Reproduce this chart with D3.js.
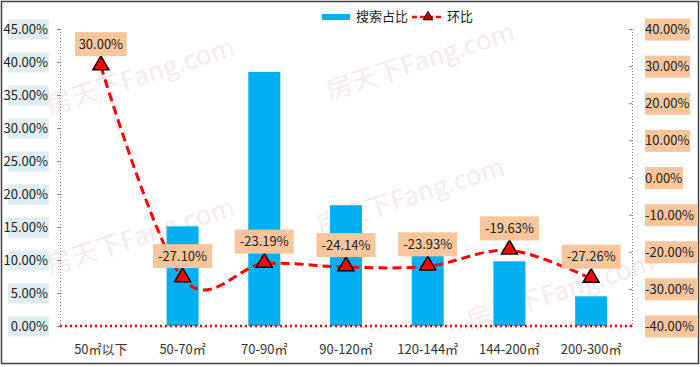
<!DOCTYPE html>
<html>
<head>
<meta charset="utf-8">
<script src="https://cdn.jsdelivr.net/npm/d3@7"></script>
<style>
  body { margin: 0; background: #fff; }
  text { font-family: "Noto Sans CJK SC", "Noto Sans", sans-serif; }
</style>
</head>
<body>
<div id="chart"></div>
<script>
// data
var categories = ["50㎡以下", "50-70㎡", "70-90㎡", "90-120㎡", "120-144㎡", "144-200㎡", "200-300㎡"];
var shareValues = [0, 15.1, 38.5, 18.3, 10.8, 9.8, 4.5];          // 搜索占比 (%)
var changeValues = [30.00, -27.10, -23.19, -24.14, -23.93, -19.63, -27.26]; // 环比 (%)
var leftTicks = [0, 5, 10, 15, 20, 25, 30, 35, 40, 45];
var rightTicks = [-40, -30, -20, -10, 0, 10, 20, 30, 40];

var width = 700, height = 367;
var margin = { top: 29, right: 68, bottom: 41, left: 60 };
var plotW = width - margin.left - margin.right,
    plotH = height - margin.top - margin.bottom;

var svg = d3.select("#chart").append("svg")
    .attr("width", width)
    .attr("height", height);

// outer border
svg.append("rect")
    .attr("x", 1.5).attr("y", 1.5)
    .attr("width", width - 3).attr("height", height - 5)
    .attr("fill", "#fff")
    .attr("stroke", "#404040")
    .attr("stroke-width", 1.5);

// faint watermarks
var marks = [[50, 115], [330, 100], [50, 275], [320, 235], [470, 330]];
marks.forEach(function (m) {
    svg.append("text")
        .attr("transform", "translate(" + m[0] + "," + m[1] + ") rotate(-18)")
        .attr("fill", "#e8b8bd")
        .attr("opacity", 0.3)
        .style("font-size", "26px")
        .text("房天下Fang.com");
});

var g = svg.append("g")
    .attr("transform", "translate(" + margin.left + "," + margin.top + ")");

// scales
var xc = d3.scaleBand().domain(categories).range([0, plotW]);
var yL = d3.scaleLinear().domain([0, 45]).range([plotH, 0]);
var yR = d3.scaleLinear().domain([-40, 40]).range([plotH, 0]);

// bars
g.selectAll(".bar")
    .data(shareValues)
    .enter().append("rect")
    .attr("class", "bar")
    .attr("x", function (d, i) { return xc(categories[i]) + xc.bandwidth() / 2 - 16; })
    .attr("width", 32)
    .attr("y", function (d) { return yL(d); })
    .attr("height", function (d) { return plotH - yL(d); })
    .attr("fill", "#00b0f0");

// left axis
var leftAxis = g.append("g")
    .call(d3.axisLeft(yL).tickValues(leftTicks).tickSize(3).tickFormat(""));
leftAxis.select(".domain").attr("stroke", "#808080").attr("stroke-dasharray", "1,2");
leftAxis.selectAll(".tick line").attr("stroke", "#808080");
leftAxis.selectAll(".tick").each(function (d) {
    var t = d3.select(this);
    t.append("rect")
        .attr("x", -52).attr("y", -10)
        .attr("width", 41).attr("height", 20)
        .attr("fill", "#deeef4");
    t.append("text")
        .attr("x", -12).attr("dy", "0.35em")
        .attr("text-anchor", "end")
        .attr("fill", "#222")
        .style("font-size", "13px")
        .text(d.toFixed(2) + "%");
});

// right axis
var rightAxis = g.append("g")
    .attr("transform", "translate(" + plotW + ",0)")
    .call(d3.axisRight(yR).tickValues(rightTicks).tickSize(-3).tickFormat(""));
rightAxis.select(".domain").attr("stroke", "#808080").attr("stroke-dasharray", "1,2");
rightAxis.selectAll(".tick line").attr("stroke", "#808080");
rightAxis.selectAll(".tick").each(function (d) {
    var t = d3.select(this);
    var label = d.toFixed(2) + "%";
    var w = label.length * 7.2 + 2;
    t.append("rect")
        .attr("x", 13).attr("y", -11)
        .attr("width", w).attr("height", 22)
        .attr("fill", "#f8c59c");
    t.append("text")
        .attr("x", 13).attr("dy", "0.35em")
        .attr("fill", "#222")
        .style("font-size", "13px")
        .text(label);
});

// x baseline, dotted red
g.append("line")
    .attr("x1", 0).attr("x2", plotW)
    .attr("y1", plotH).attr("y2", plotH)
    .attr("stroke", "#e00000")
    .attr("stroke-width", 2.5)
    .attr("stroke-dasharray", "2,3");

// x labels
g.selectAll(".xlabel")
    .data(categories)
    .enter().append("text")
    .attr("class", "xlabel")
    .attr("x", function (d) { return xc(d) + xc.bandwidth() / 2; })
    .attr("y", plotH + 28)
    .attr("text-anchor", "middle")
    .attr("fill", "#333")
    .style("font-size", "13px")
    .text(function (d) { return d; });

// line
var line = d3.line()
    .x(function (d, i) { return xc(categories[i]) + xc.bandwidth() / 2; })
    .y(function (d) { return yR(d); })
    .curve(d3.curveCardinal.tension(0));

g.append("path")
    .datum(changeValues)
    .attr("d", line)
    .attr("fill", "none")
    .attr("stroke", "#ff0000")
    .attr("stroke-width", 3)
    .attr("stroke-dasharray", "9,5");

var tri = d3.symbol().type(d3.symbolTriangle).size(110);
g.selectAll(".pt")
    .data(changeValues)
    .enter().append("path")
    .attr("class", "pt")
    .attr("transform", function (d, i) {
        return "translate(" + (xc(categories[i]) + xc.bandwidth() / 2) + "," + (yR(d) - 1) + ")";
    })
    .attr("d", tri)
    .attr("fill", "#ff0000")
    .attr("stroke", "#000")
    .attr("stroke-width", 1.5);

// value labels
g.selectAll(".vlab")
    .data(changeValues)
    .enter().append("g")
    .attr("class", "vlab")
    .attr("transform", function (d, i) {
        return "translate(" + (xc(categories[i]) + xc.bandwidth() / 2) + "," + (yR(d) - 22) + ")";
    })
    .each(function (d) {
        var t = d3.select(this);
        var label = d.toFixed(2) + "%";
        var w = label.length * 7.3 + 8;
        t.append("rect")
            .attr("x", -w / 2).attr("y", -12)
            .attr("width", w).attr("height", 24)
            .attr("fill", "#f8c59c");
        t.append("text")
            .attr("text-anchor", "middle")
            .attr("dy", "0.35em")
            .attr("fill", "#222")
            .style("font-size", "13px")
            .text(label);
    });

// legend
var legend = svg.append("g").attr("transform", "translate(322,0)");
legend.append("rect")
    .attr("x", 0).attr("y", 14)
    .attr("width", 28).attr("height", 6)
    .attr("fill", "#00b0f0");
legend.append("text")
    .attr("x", 34).attr("y", 21)
    .attr("fill", "#222")
    .style("font-size", "13px")
    .text("搜索占比");
legend.append("line")
    .attr("x1", 90).attr("x2", 122)
    .attr("y1", 17).attr("y2", 17)
    .attr("stroke", "#ff0000")
    .attr("stroke-width", 2.5)
    .attr("stroke-dasharray", "5,3");
legend.append("path")
    .attr("transform", "translate(106,17)")
    .attr("d", d3.symbol().type(d3.symbolTriangle).size(40))
    .attr("fill", "#c00000")
    .attr("stroke", "#000")
    .attr("stroke-width", 1);
legend.append("text")
    .attr("x", 125).attr("y", 21)
    .attr("fill", "#222")
    .style("font-size", "13px")
    .text("环比");
</script>
</body>
</html>
